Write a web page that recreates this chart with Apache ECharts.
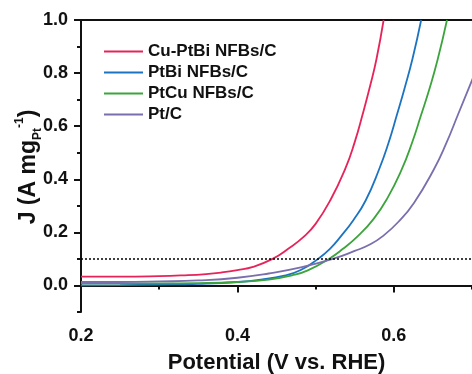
<!DOCTYPE html>
<html>
<head>
<meta charset="utf-8">
<script src="https://cdn.jsdelivr.net/npm/echarts@6/dist/echarts.min.js"></script>
<style>
  html, body { margin: 0; padding: 0; background: #fff; }
  #chart { width: 472px; height: 374px; }
</style>
</head>
<body>
<div id="chart"></div>
<script>
// series names (legend order)
var names = ['Cu-PtBi NFBs/C', 'PtBi NFBs/C', 'PtCu NFBs/C', 'Pt/C'];
var colors = ['#e6245a', '#1c74c1', '#3ca43c', '#7a6ead'];

// potential (V vs. RHE) and current density (A mg-1)
var cuPtBiX = [0.20, 0.25, 0.30, 0.33, 0.36, 0.38, 0.40, 0.42, 0.445, 0.465, 0.485, 0.50, 0.519, 0.538, 0.55, 0.56, 0.57, 0.578, 0.587];
var cuPtBiY = [0.033, 0.033, 0.035, 0.038, 0.043, 0.049, 0.058, 0.070, 0.10, 0.138, 0.184, 0.232, 0.322, 0.44, 0.54, 0.643, 0.755, 0.855, 1.0];

var ptBiX = [0.20, 0.25, 0.30, 0.35, 0.40, 0.43, 0.46, 0.481, 0.503, 0.518, 0.532, 0.548, 0.564, 0.581, 0.593, 0.604, 0.614, 0.624, 0.635];
var ptBiY = [0.000, 0.001, 0.003, 0.006, 0.013, 0.022, 0.037, 0.058, 0.10, 0.137, 0.184, 0.245, 0.32, 0.436, 0.535, 0.643, 0.745, 0.855, 1.0];

var ptCuX = [0.20, 0.25, 0.30, 0.35, 0.40, 0.44, 0.47, 0.49, 0.517, 0.535, 0.554, 0.574, 0.592, 0.610, 0.623, 0.635, 0.646, 0.656, 0.668];
var ptCuY = [0.008, 0.008, 0.008, 0.009, 0.013, 0.022, 0.038, 0.057, 0.10, 0.138, 0.186, 0.25, 0.33, 0.436, 0.535, 0.643, 0.745, 0.85, 1.0];

var ptCX = [0.20, 0.25, 0.30, 0.35, 0.40, 0.44, 0.481, 0.522, 0.55, 0.57, 0.586, 0.606, 0.626, 0.651, 0.667, 0.682, 0.701];
var ptCY = [0.013, 0.013, 0.015, 0.019, 0.029, 0.045, 0.068, 0.10, 0.13, 0.155, 0.186, 0.24, 0.312, 0.436, 0.535, 0.643, 0.78];

var refLevel = 0.1;

// ticks and labels
var xLabels = [0.2, 0.4, 0.6];
var xMinor = [0.3, 0.5, 0.7];
var yLabels = [0, 0.2, 0.4, 0.6, 0.8, 1.0];
var yMinor = [-0.1, 0.1, 0.3, 0.5, 0.7, 0.9];

var yTitle = 'J (A mg{sub|Pt}{sup|-1})';

var font = 'Arial, "Liberation Sans", Helvetica, sans-serif';

function zip(xs, ys) {
  return xs.map(function (x, i) { return [x, ys[i]]; });
}

var seriesData = [zip(cuPtBiX, cuPtBiY), zip(ptBiX, ptBiY), zip(ptCuX, ptCuY), zip(ptCX, ptCY)];

var series = seriesData.map(function (d, i) {
  var s = {
    name: names[i],
    type: 'line',
    data: d,
    smooth: 0.5,
    showSymbol: false,
    symbol: 'none',
    clip: true,
    lineStyle: { color: colors[i], width: 1.8 },
    itemStyle: { color: colors[i] }
  };
  if (i === 0) {
    s.markLine = {
      silent: true,
      symbol: 'none',
      label: { show: false },
      lineStyle: { color: '#000', type: [2, 2], width: 1.5 },
      data: [{ yAxis: refLevel }]
    };
  }
  return s;
});

var myChart = echarts.init(document.getElementById('chart'));

var option = {
  animation: false,
  grid: { left: 81, top: 20, right: 0, bottom: 62, containLabel: false, outerBoundsMode: 'none' },
  // y axis title, rotated, with sub/superscript
  graphic: [{
    type: 'text',
    x: 29,
    y: 167,
    rotation: Math.PI / 2,
    silent: true,
    style: {
      text: yTitle,
      fontFamily: font,
      fontWeight: 'bold',
      fontSize: 23,
      fill: '#111',
      lineHeight: 30,
      align: 'center',
      verticalAlign: 'middle',
      rich: {
        sub: { fontFamily: font, fontWeight: 'bold', fontSize: 12, fill: '#111', verticalAlign: 'bottom', lineHeight: 14 },
        sup: { fontFamily: font, fontWeight: 'bold', fontSize: 12, fill: '#111', verticalAlign: 'top', lineHeight: 14 }
      }
    }
  }],
  legend: {
    orient: 'vertical',
    left: 99,
    top: 37,
    icon: 'rect',
    itemWidth: 39,
    itemHeight: 2,
    itemGap: 2,
    data: names,
    textStyle: { fontFamily: font, fontWeight: 'bold', fontSize: 17, color: '#111', lineHeight: 19 }
  },
  xAxis: [{
    type: 'value',
    min: 0.2,
    max: 0.7,
    interval: 0.1,
    position: 'bottom',
    name: 'Potential (V vs. RHE)',
    nameLocation: 'middle',
    nameGap: 40,
    nameTextStyle: { fontFamily: font, fontWeight: 'bold', fontSize: 22, color: '#111' },
    splitLine: { show: false },
    axisLine: { lineStyle: { color: '#111', width: 2 } },
    axisTick: { customValues: xLabels, length: 7, lineStyle: { color: '#111', width: 2 } },
    axisLabel: {
      customValues: xLabels,
      margin: 15,
      fontFamily: font, fontWeight: 'bold', fontSize: 18, color: '#111',
      formatter: function (v) { return v.toFixed(1); }
    }
  }, {
    type: 'value',
    min: 0.2,
    max: 0.7,
    position: 'bottom',
    splitLine: { show: false },
    axisLine: { show: false },
    axisTick: { customValues: xMinor, length: 4, lineStyle: { color: '#111', width: 2 } },
    axisLabel: { show: false }
  }, {
    type: 'value',
    min: 0.2,
    max: 0.7,
    position: 'top',
    splitLine: { show: false },
    axisLine: { lineStyle: { color: '#111', width: 2 } },
    axisTick: { show: false },
    axisLabel: { show: false }
  }],
  yAxis: [{
    type: 'value',
    min: -0.1,
    max: 1.0,
    position: 'left',
    splitLine: { show: false },
    axisLine: { lineStyle: { color: '#111', width: 2 } },
    axisTick: { customValues: yLabels, length: 7, lineStyle: { color: '#111', width: 2 } },
    axisLabel: {
      customValues: yLabels,
      margin: 13,
      fontFamily: font, fontWeight: 'bold', fontSize: 18, color: '#111',
      formatter: function (v) { return v.toFixed(1); }
    }
  }, {
    type: 'value',
    min: -0.1,
    max: 1.0,
    position: 'left',
    splitLine: { show: false },
    axisLine: { show: false },
    axisTick: { customValues: yMinor, length: 4, lineStyle: { color: '#111', width: 2 } },
    axisLabel: { show: false }
  }],
  series: series
};

myChart.setOption(option);
</script>
</body>
</html>
